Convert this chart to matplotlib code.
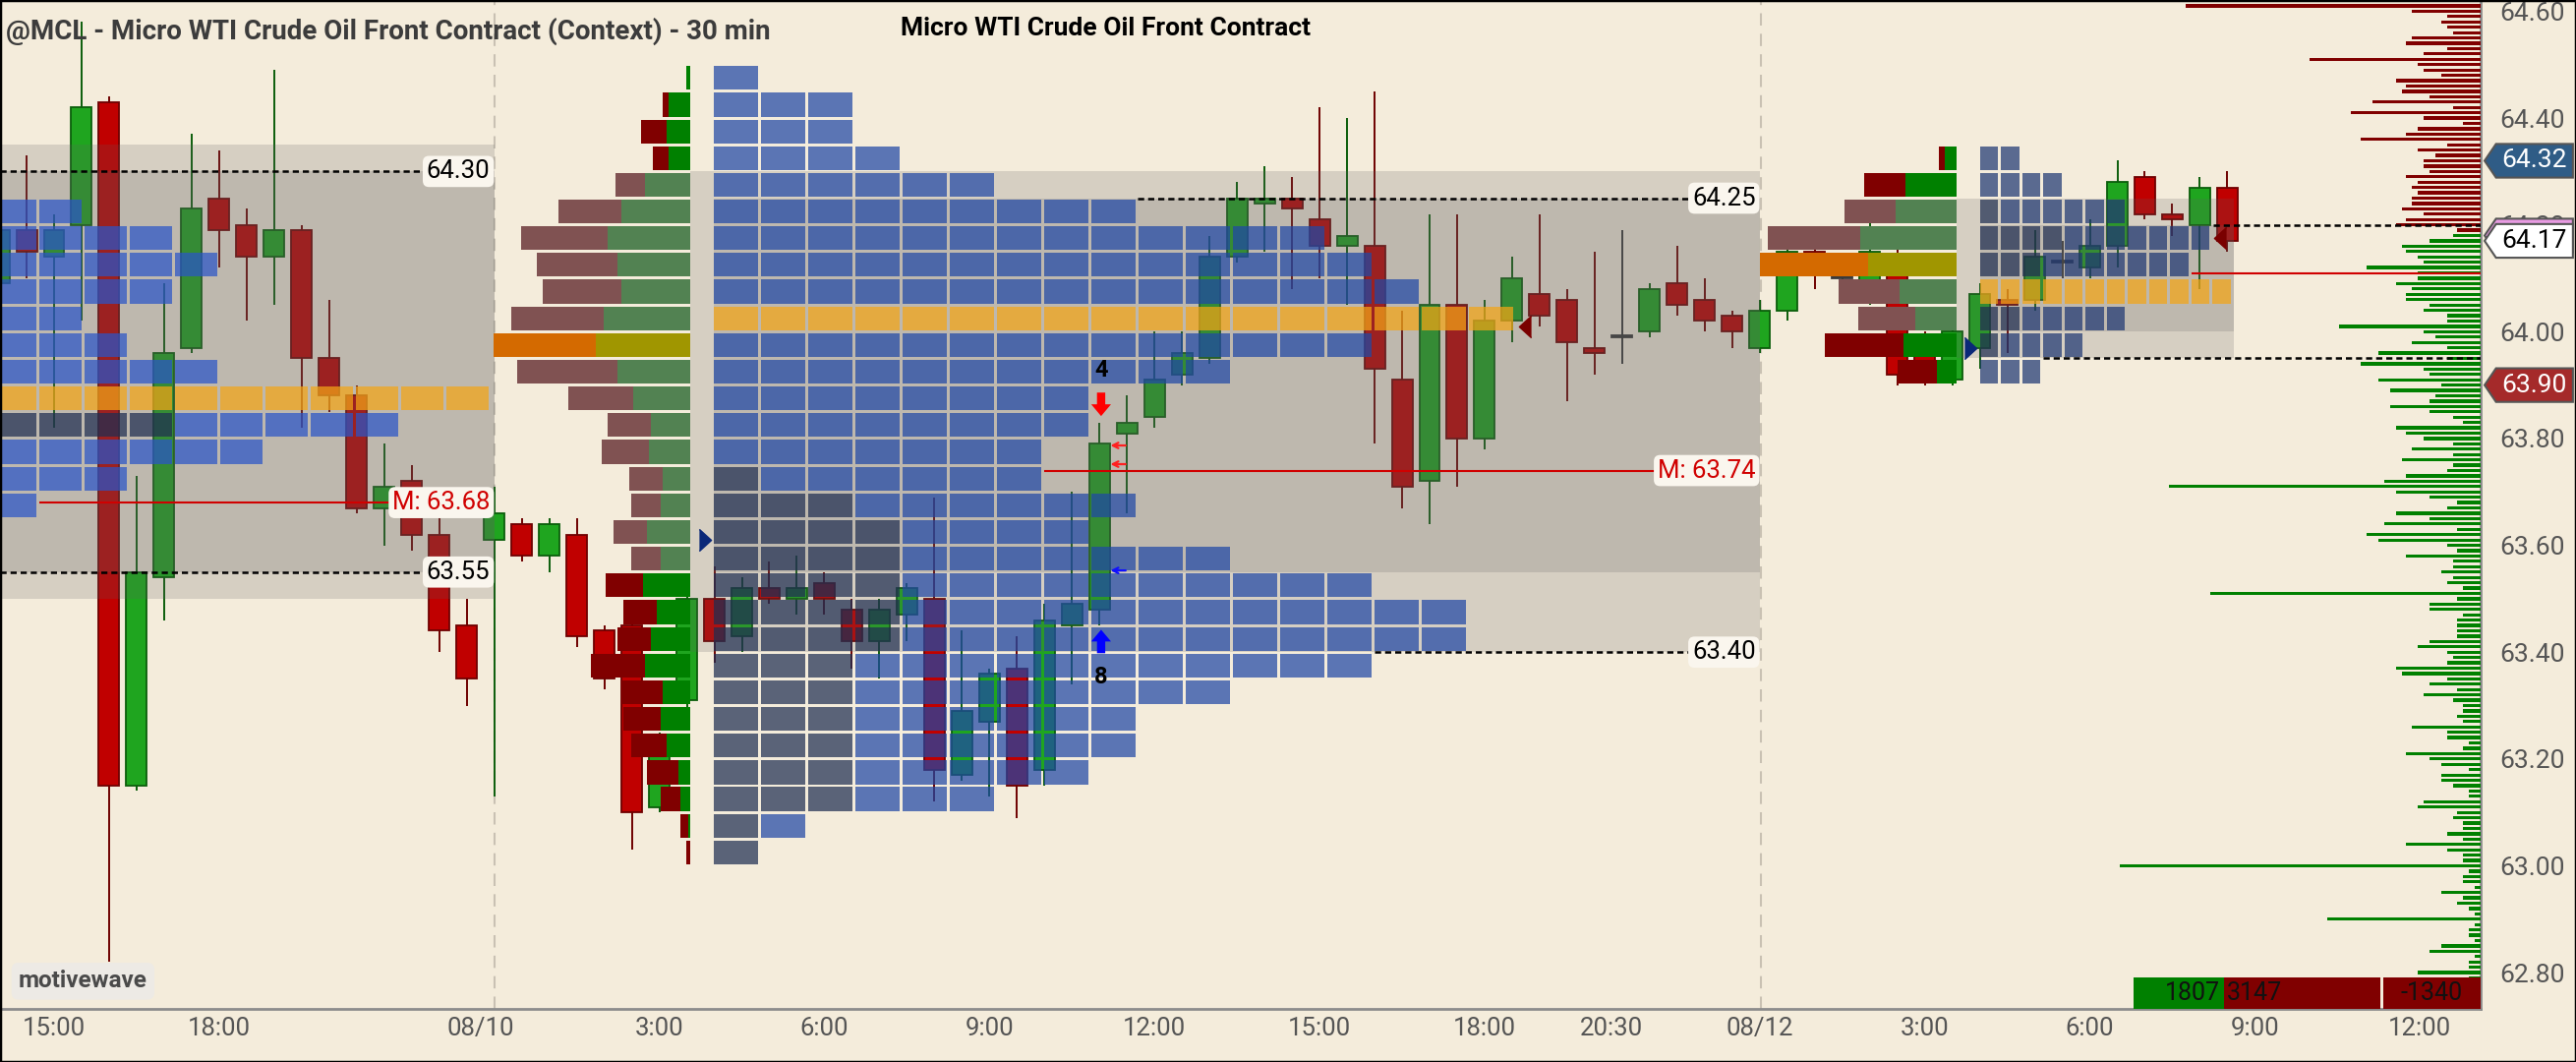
import numpy as np
import matplotlib
matplotlib.use("Agg")
import matplotlib.pyplot as plt
import matplotlib.transforms as mtransforms
from matplotlib.patches import Rectangle, Polygon

plt.rcParams['font.family'] = ['Roboto', 'DejaVu Sans']

# ---------------------------------------------------------------- data
# 30 min candles, x = bar slot (0 = 15:00 on 08/08)
bar_slot = list(range(-2, 80))
opens = [64.09, 64.19, 64.14, 64.20, 64.43, 63.15, 63.54, 63.97, 64.25, 64.20,
         64.14, 64.19, 63.95, 63.88, 63.67, 63.72, 63.62, 63.45, 63.61, 63.64,
         63.58, 63.62, 63.44, 63.45, 63.11, 63.31, 63.50, 63.43, 63.52, 63.50,
         63.53, 63.48, 63.42, 63.47, 63.50, 63.17, 63.27, 63.37, 63.18, 63.45,
         63.48, 63.81, 63.84, 63.92, 63.95, 64.14, 64.24, 64.25, 64.21, 64.16,
         64.16, 63.91, 63.72, 64.05, 63.80, 64.02, 64.07, 64.06, 63.97, 63.99,
         64.00, 64.09, 64.06, 64.03, 63.97, 64.04, 64.15, 64.10, 64.09, 64.12,
         63.99, 63.91, 63.97, 64.06, 64.06, 64.13, 64.12, 64.16, 64.29, 64.22,
         64.20, 64.27]
highs = [64.20, 64.33, 64.22, 64.58, 64.44, 63.73, 64.09, 64.37, 64.34, 64.23,
         64.49, 64.20, 64.06, 63.90, 63.79, 63.75, 63.65, 63.50, 63.71, 63.65,
         63.65, 63.65, 63.45, 63.46, 63.25, 63.52, 63.56, 63.54, 63.57, 63.58,
         63.55, 63.50, 63.50, 63.53, 63.69, 63.44, 63.37, 63.43, 63.49, 63.70,
         63.83, 63.88, 64.00, 64.00, 64.18, 64.28, 64.31, 64.29, 64.42, 64.40,
         64.45, 64.04, 64.22, 64.22, 64.06, 64.14, 64.22, 64.08, 64.15, 64.19,
         64.09, 64.16, 64.10, 64.04, 64.06, 64.17, 64.18, 64.11, 64.21, 64.16,
         64.00, 64.01, 64.09, 64.08, 64.19, 64.17, 64.21, 64.32, 64.30, 64.24,
         64.29, 64.30]
lows = [64.08, 64.10, 63.82, 64.02, 62.82, 63.14, 63.46, 63.96, 64.12, 64.02,
        64.05, 63.82, 63.85, 63.66, 63.60, 63.59, 63.40, 63.30, 63.13, 63.57,
        63.55, 63.41, 63.33, 63.03, 63.10, 63.29, 63.38, 63.40, 63.49, 63.47,
        63.47, 63.37, 63.35, 63.42, 63.12, 63.16, 63.13, 63.09, 63.15, 63.34,
        63.45, 63.66, 63.82, 63.90, 63.94, 64.13, 64.15, 64.08, 64.10, 64.05,
        63.79, 63.67, 63.64, 63.71, 63.78, 63.98, 64.01, 63.87, 63.92, 63.94,
        63.99, 64.03, 64.00, 63.97, 63.96, 64.02, 64.08, 64.09, 64.05, 63.90,
        63.90, 63.90, 63.93, 63.96, 64.04, 64.10, 64.10, 64.12, 64.21, 64.18,
        64.08, 64.15]
closes = [64.19, 64.15, 64.19, 64.42, 63.15, 63.55, 63.96, 64.23, 64.19, 64.14,
          64.19, 63.95, 63.88, 63.67, 63.71, 63.62, 63.44, 63.35, 63.66, 63.58,
          63.64, 63.43, 63.35, 63.10, 63.22, 63.50, 63.42, 63.52, 63.50, 63.52,
          63.50, 63.42, 63.48, 63.52, 63.18, 63.29, 63.36, 63.15, 63.46, 63.49,
          63.79, 63.83, 63.91, 63.96, 64.14, 64.25, 64.25, 64.23, 64.16, 64.18,
          63.93, 63.71, 64.05, 63.80, 64.02, 64.10, 64.03, 63.98, 63.96, 63.99,
          64.08, 64.05, 64.02, 64.00, 64.04, 64.15, 64.11, 64.10, 64.15, 63.92,
          63.91, 64.00, 64.07, 64.05, 64.14, 64.13, 64.16, 64.28, 64.22, 64.21,
          64.27, 64.17]

tick_pos = [0, 6, 15.5, 22, 28, 34, 40, 46, 52, 56.6, 62, 68, 74, 80, 86]
tick_labels = ['15:00', '18:00', '08/10', '3:00', '6:00', '9:00', '12:00', '15:00',
               '18:00', '20:30', '08/12', '3:00', '6:00', '9:00', '12:00']
price_ticks = [62.80, 63.00, 63.20, 63.40, 63.60, 63.80, 64.00, 64.20, 64.40, 64.60]

# TPO profiles (row = lower price of a 0.05 bracket)
left_tpo_rows = [64.20, 64.15, 64.10, 64.05, 64.00, 63.95, 63.90, 63.85, 63.80, 63.75, 63.70, 63.65]
left_tpo_counts = [2, 4, 5, 4, 2, 3, 5, 11, 9, 6, 3, 1]
left_tpo_early = [0, 0, 0, 0, 0, 0, 0, 0, 4, 0, 0, 0]
left_tpo_poc = 63.85

mid_tpo_rows = [64.45, 64.40, 64.35, 64.30, 64.25, 64.20, 64.15, 64.10, 64.05, 64.00,
                63.95, 63.90, 63.85, 63.80, 63.75, 63.70, 63.65, 63.60, 63.55, 63.50,
                63.45, 63.40, 63.35, 63.30, 63.25, 63.20, 63.15, 63.10, 63.05, 63.00]
mid_tpo_counts = [1, 3, 3, 4, 6, 9, 13, 14, 15, 17, 14, 11, 8, 8, 7,
                  7, 9, 8, 11, 14, 16, 16, 14, 11, 9, 9, 8, 6, 2, 1]
mid_tpo_early = [0, 0, 0, 0, 0, 0, 0, 0, 0, 0, 0, 0, 0, 0, 0,
                 1, 3, 4, 4, 4, 4, 4, 3, 3, 3, 3, 3, 3, 1, 1]
mid_tpo_poc = 64.00

right_tpo_rows = [64.30, 64.25, 64.20, 64.15, 64.10, 64.05, 64.00, 63.95, 63.90]
right_tpo_counts = [2, 4, 7, 11, 10, 12, 7, 5, 3]
right_tpo_early = [0, 0, 1, 4, 3, 0, 2, 1, 0]
right_tpo_poc = 64.05

# volume-at-price profiles, sell / buy per 0.05 row
mid_vol_sell = [0, 6, 26, 16, 30, 64, 88, 82, 80, 94, 104, 102, 66, 44, 48,
                34, 30, 34, 30, 38, 34, 34, 55, 42, 38, 36, 32, 20, 8, 4]
mid_vol_buy = [4, 22, 24, 22, 46, 70, 84, 74, 70, 88, 96, 74, 58, 40, 42,
               28, 30, 44, 30, 48, 34, 40, 46, 28, 30, 24, 12, 10, 2, 0]
mid_vol_poc = 63.95
right_vol_sell = [6, 42, 52, 94, 110, 62, 58, 80, 40]
right_vol_buy = [12, 52, 62, 98, 90, 58, 42, 54, 20]
right_vol_poc = 64.10

# current-session volume by tick at the right edge
tick_vol_top = 64.62
tick_vol_sell = [24, 300, 70, 34, 40, 34, 28, 70, 76, 34, 58, 174, 64, 58, 40, 86, 76, 80, 52, 110,
                 28, 132, 58, 18, 64, 76, 122, 34, 64, 46, 58, 58, 52, 76, 64, 70, 64, 70, 70, 80,
                 58, 76, 86, 24]
tick_vol_buy = [28, 52, 80, 76, 64, 58, 116, 64, 64, 86, 70, 76, 76, 52, 58, 34, 34, 144, 58, 46,
                70, 34, 104, 34, 122, 58, 52, 104, 40, 92, 46, 52, 92, 52, 28, 18, 86, 76, 58, 28,
                70, 28, 80, 28, 34, 76, 98, 317, 86, 52, 24, 34, 86, 52, 98,
                24, 116, 104, 34, 24, 76, 28, 28, 40, 28, 34, 18, 275, 24, 52, 52, 18, 24, 24, 24,
                24, 52, 64, 34, 28, 34, 86, 80, 34, 52, 24, 58, 28, 18, 18, 24, 18, 70, 34, 34,
                12, 18, 76, 52, 40, 12, 40, 40, 28, 12, 12, 58, 64, 24, 28, 18, 18, 34, 18, 76,
                34, 18, 18, 367, 12, 18, 18, 6, 40, 18, 24, 12, 6, 156, 6, 12, 12, 6, 40, 52,
                6, 12, 12, 64, 12]

buy_total = 1807
sell_total = 3147

# ---------------------------------------------------------------- style
BG = '#F4ECDB'
PX = 1 / 27.98              # bar slots per screen pixel
ROW = 0.05
GAP_Y = 0.0055
GAP_X = 3 * PX
X_LEFT = -55 * PX
X_RIGHT = X_LEFT + 2523 * PX
LABEL_FS = 18.5

fig = plt.figure(figsize=(26.2, 10.8), dpi=100, facecolor=BG)
ax = fig.add_axes([0.0, 54.5 / 1080, 2523 / 2620, 1025.5 / 1080])
ax.set_facecolor(BG)
ax.set_xlim(X_LEFT, X_RIGHT)
ax.set_ylim(62.733, 64.621)

# session dividers
for xd in [16.0, 62.05]:
    ax.axvline(xd, color='#C9C1B3', lw=1.5, ls=(0, (6, 4)), zorder=1)

# candles
o = np.array(opens); c = np.array(closes)
face, edge = [], []
for oo, cc in zip(o, c):
    if cc > oo:
        face.append('#1FA51F'); edge.append('#0B5E0B')
    elif cc < oo:
        face.append('#C00000'); edge.append('#6E0000')
    else:
        face.append('#3A3A3A'); edge.append('#3A3A3A')
ax.vlines(bar_slot, lows, highs, colors=edge, lw=1.4, zorder=2)
body_h = np.maximum(np.abs(c - o), 0.004)
ax.bar(bar_slot, body_h, bottom=np.minimum(o, c), width=0.75, color=face,
       edgecolor=edge, linewidth=1.3, zorder=2)

# value area shading (range + value area)
zones = [(X_LEFT - 1, 16.0, 63.50, 64.35), (X_LEFT - 1, 16.0, 63.55, 64.30),
         (23.12, 62.0, 63.40, 64.30), (23.98, 62.0, 63.55, 64.25),
         (69.16, 79.24, 63.95, 64.25), (70.0, 79.24, 64.00, 64.20)]
for x0, x1, lo, hi in zones:
    ax.add_patch(Rectangle((x0, lo), x1 - x0, hi - lo, fc='#5F5F5F', ec='none',
                           alpha=0.2, zorder=2.5))


def draw_tpo(start, pitch, rows, counts, early, poc, base, early_c):
    for p, n, e in zip(rows, counts, early):
        for k in range(n):
            if abs(p - poc) < 1e-6:
                col = '#F3A516'
            elif k < e:
                col = early_c
            else:
                col = base
            ax.add_patch(Rectangle((start + k * pitch, p + GAP_Y / 2), pitch - GAP_X,
                                   ROW - GAP_Y, fc=col, ec='none', alpha=0.72, zorder=3))


draw_tpo(-2.18, 46 * PX, left_tpo_rows, left_tpo_counts, left_tpo_early, left_tpo_poc,
         '#2A55C8', '#1F2E52')
draw_tpo(23.98, 48 * PX, mid_tpo_rows, mid_tpo_counts, mid_tpo_early, mid_tpo_poc,
         '#2048A6', '#1F2E52')
draw_tpo(70.0, 21.5 * PX, right_tpo_rows, right_tpo_counts, right_tpo_early, right_tpo_poc,
         '#1F3873', '#1F2E52')


def draw_volume(right, rows, sell, buy, poc, va_lo, va_hi):
    for p, s, b in zip(rows, sell, buy):
        if abs(p - poc) < 1e-6:
            rc, gc = '#D46A00', '#A09600'
        elif va_lo - 1e-6 <= p <= va_hi + 1e-6:
            rc, gc = '#805252', '#528252'
        else:
            rc, gc = '#800000', '#008000'
        y = p + ROW / 2
        ax.barh(y, b * PX, left=right - b * PX, height=ROW - GAP_Y, color=gc, zorder=3.5)
        ax.barh(y, s * PX, left=right - (b + s) * PX, height=ROW - GAP_Y, color=rc, zorder=3.5)


draw_volume(23.12, mid_tpo_rows, mid_vol_sell, mid_vol_buy, mid_vol_poc, 63.55, 64.25)
draw_volume(69.16, right_tpo_rows, right_vol_sell, right_vol_buy, right_vol_poc, 64.00, 64.20)

# tick volume at right edge
sv = np.array(tick_vol_sell) * PX
bv = np.array(tick_vol_buy) * PX
sp = np.round(tick_vol_top - 0.01 * np.arange(len(sv)), 2)
bp = np.round(sp[-1] - 0.01 * np.arange(1, len(bv) + 1), 2)
ax.barh(sp, sv, left=X_RIGHT - sv, height=0.006, color='#800000', zorder=4)
ax.barh(bp, bv, left=X_RIGHT - bv, height=0.006, color='#008000', zorder=4)

# level lines
dash = (0, (2.5, 1.6))
for y, x0, x1 in [(64.30, X_LEFT, 14.0), (63.55, X_LEFT, 14.0),
                  (64.25, 39.4, 60.0), (63.40, 48.0, 60.0),
                  (64.20, 78.5, X_RIGHT), (63.95, 72.3, X_RIGHT)]:
    ax.hlines(y, x0, x1, colors='black', lw=1.8, linestyles=dash, zorder=6)
for y, x0, x1 in [(63.68, -0.54, 13.0), (63.74, 36.0, 59.0), (64.11, 77.7, X_RIGHT)]:
    ax.hlines(y, x0, x1, colors='#D00000', lw=1.5, zorder=6)


def level_label(x, y, text, color):
    ax.text(x, y, text, ha='right', va='center', fontsize=LABEL_FS, color=color, zorder=8,
            bbox=dict(boxstyle='round,pad=0.15,rounding_size=0.25', fc='#FAF6EE', ec='none'))


level_label(15.85, 64.30, '64.30', 'black')
level_label(15.85, 63.55, '63.55', 'black')
level_label(15.85, 63.68, 'M: 63.68', '#D00000')
level_label(61.85, 64.25, '64.25', 'black')
level_label(61.85, 63.40, '63.40', 'black')
level_label(61.85, 63.74, 'M: 63.74', '#D00000')

# signal arrows
ax.arrow(38.06, 63.886, 0, -0.044, width=0.3, head_width=0.72, head_length=0.022,
         length_includes_head=True, color='#FF0000', lw=0, zorder=7)
ax.arrow(38.06, 63.398, 0, 0.044, width=0.3, head_width=0.72, head_length=0.022,
         length_includes_head=True, color='#0000FF', lw=0, zorder=7)
ax.text(38.06, 63.928, '4', ha='center', va='center', fontsize=17, fontweight='bold', zorder=7)
ax.text(38.06, 63.354, '8', ha='center', va='center', fontsize=17, fontweight='bold', zorder=7)
for y, col in [(63.787, '#FF2020'), (63.752, '#FF2020'), (63.553, '#1010FF')]:
    ax.annotate('', xy=(38.3, y), xytext=(39.05, y),
                arrowprops=dict(arrowstyle='->', color=col, lw=1.6), zorder=7)

right_tri = [(-0.55, -1), (0.55, 0), (-0.55, 1)]
left_tri = [(0.55, -1), (-0.55, 0), (0.55, 1)]
ax.plot([23.65, 69.65], [63.61, 63.97], ls='none', marker=right_tri, ms=16,
        color='#0A2878', zorder=7)
ax.plot([53.47, 78.75], [64.01, 64.175], ls='none', marker=left_tri, ms=16,
        color='#7A0000', zorder=7)

# axes styling
ax.set_xticks(tick_pos, tick_labels)
ax.set_yticks(price_ticks, [f'{v:.2f}' for v in price_ticks])
ax.yaxis.tick_right()
ax.tick_params(axis='x', length=0, pad=6, labelsize=LABEL_FS, labelcolor='#555555')
ax.tick_params(axis='y', length=0, pad=14, labelsize=19, labelcolor='#555555')
for side in ['top', 'left']:
    ax.spines[side].set_visible(False)
for side in ['bottom', 'right']:
    ax.spines[side].set_color('#8C8C8C')
    ax.spines[side].set_linewidth(2)

# price tags on the axis
tr = mtransforms.blended_transform_factory(ax.transAxes, ax.transData)
TAG_H = 0.0315


def price_tag(y, text, fc, tc, z):
    pts = [(1.0016, y), (1.0062, y + TAG_H), (1.0372, y + TAG_H),
           (1.0372, y - TAG_H), (1.0062, y - TAG_H)]
    ax.add_patch(Polygon(pts, closed=True, transform=tr, fc=fc, ec='#555555', lw=1.5,
                         clip_on=False, zorder=z))
    if text:
        ax.text(1.0215, y, text, transform=tr, ha='center', va='center', fontsize=19,
                color=tc, zorder=z + 0.1, clip_on=False)


price_tag(64.32, '64.32', '#2F5C86', 'white', 10)
price_tag(64.18, '', '#E89BE2', 'black', 10)
price_tag(64.17, f'{closes[-1]:.2f}', 'white', 'black', 11)
price_tag(63.90, '63.90', '#A52A2A', 'white', 10)

# session volume summary boxes
stats_x0 = 2170 / 2523
stats_w = (2421 - 2170) / 2523
box_h = 31.5 / 1025.5
w_buy = stats_w * buy_total / (buy_total + sell_total)
w_sell = stats_w * sell_total / (buy_total + sell_total)
ax.add_patch(Rectangle((stats_x0, 0), w_buy, box_h, transform=ax.transAxes,
                       fc='#008000', ec='none', zorder=9))
ax.add_patch(Rectangle((stats_x0 + w_buy, 0), w_sell, box_h, transform=ax.transAxes,
                       fc='#800000', ec='none', zorder=9))
ax.add_patch(Rectangle((2424 / 2523, 0), 1 - 2424 / 2523, box_h, transform=ax.transAxes,
                       fc='#800000', ec='none', zorder=9))
ax.text(stats_x0 + w_buy - 0.0012, box_h / 2, f'{buy_total}', transform=ax.transAxes,
        ha='right', va='center', fontsize=18, color='#111111', zorder=10)
ax.text(stats_x0 + w_buy + 0.0014, box_h / 2, f'{sell_total}', transform=ax.transAxes,
        ha='left', va='center', fontsize=18, color='#111111', zorder=10)
ax.text((2424 / 2523 + 1) / 2, box_h / 2, f'{buy_total - sell_total}', transform=ax.transAxes,
        ha='center', va='center', fontsize=18, color='#111111', zorder=10)

# watermark
ax.text(0.0075, 0.027, 'motivewave', transform=ax.transAxes, ha='left', va='center',
        fontsize=17.5, fontweight='bold', color='#4A4A4A', zorder=9,
        bbox=dict(boxstyle='round,pad=0.3,rounding_size=0.3', fc='#EDEAE5', ec='none'))

# titles
fig.text(6 / 2620, 1 - 32 / 1080, '@MCL - Micro WTI Crude Oil Front Contract (Context) - 30 min',
         ha='left', va='center', fontsize=20, fontweight='semibold', color='#3C3C3C')
fig.text(1125 / 2620, 1 - 29 / 1080, 'Micro WTI Crude Oil Front Contract',
         ha='center', va='center', fontsize=19, fontweight='bold', color='black')

fig.patches.append(Rectangle((0, 0), 1, 1, transform=fig.transFigure, fill=False,
                             ec='black', lw=2.5))

fig.savefig('out.png', dpi=100, facecolor=BG)
